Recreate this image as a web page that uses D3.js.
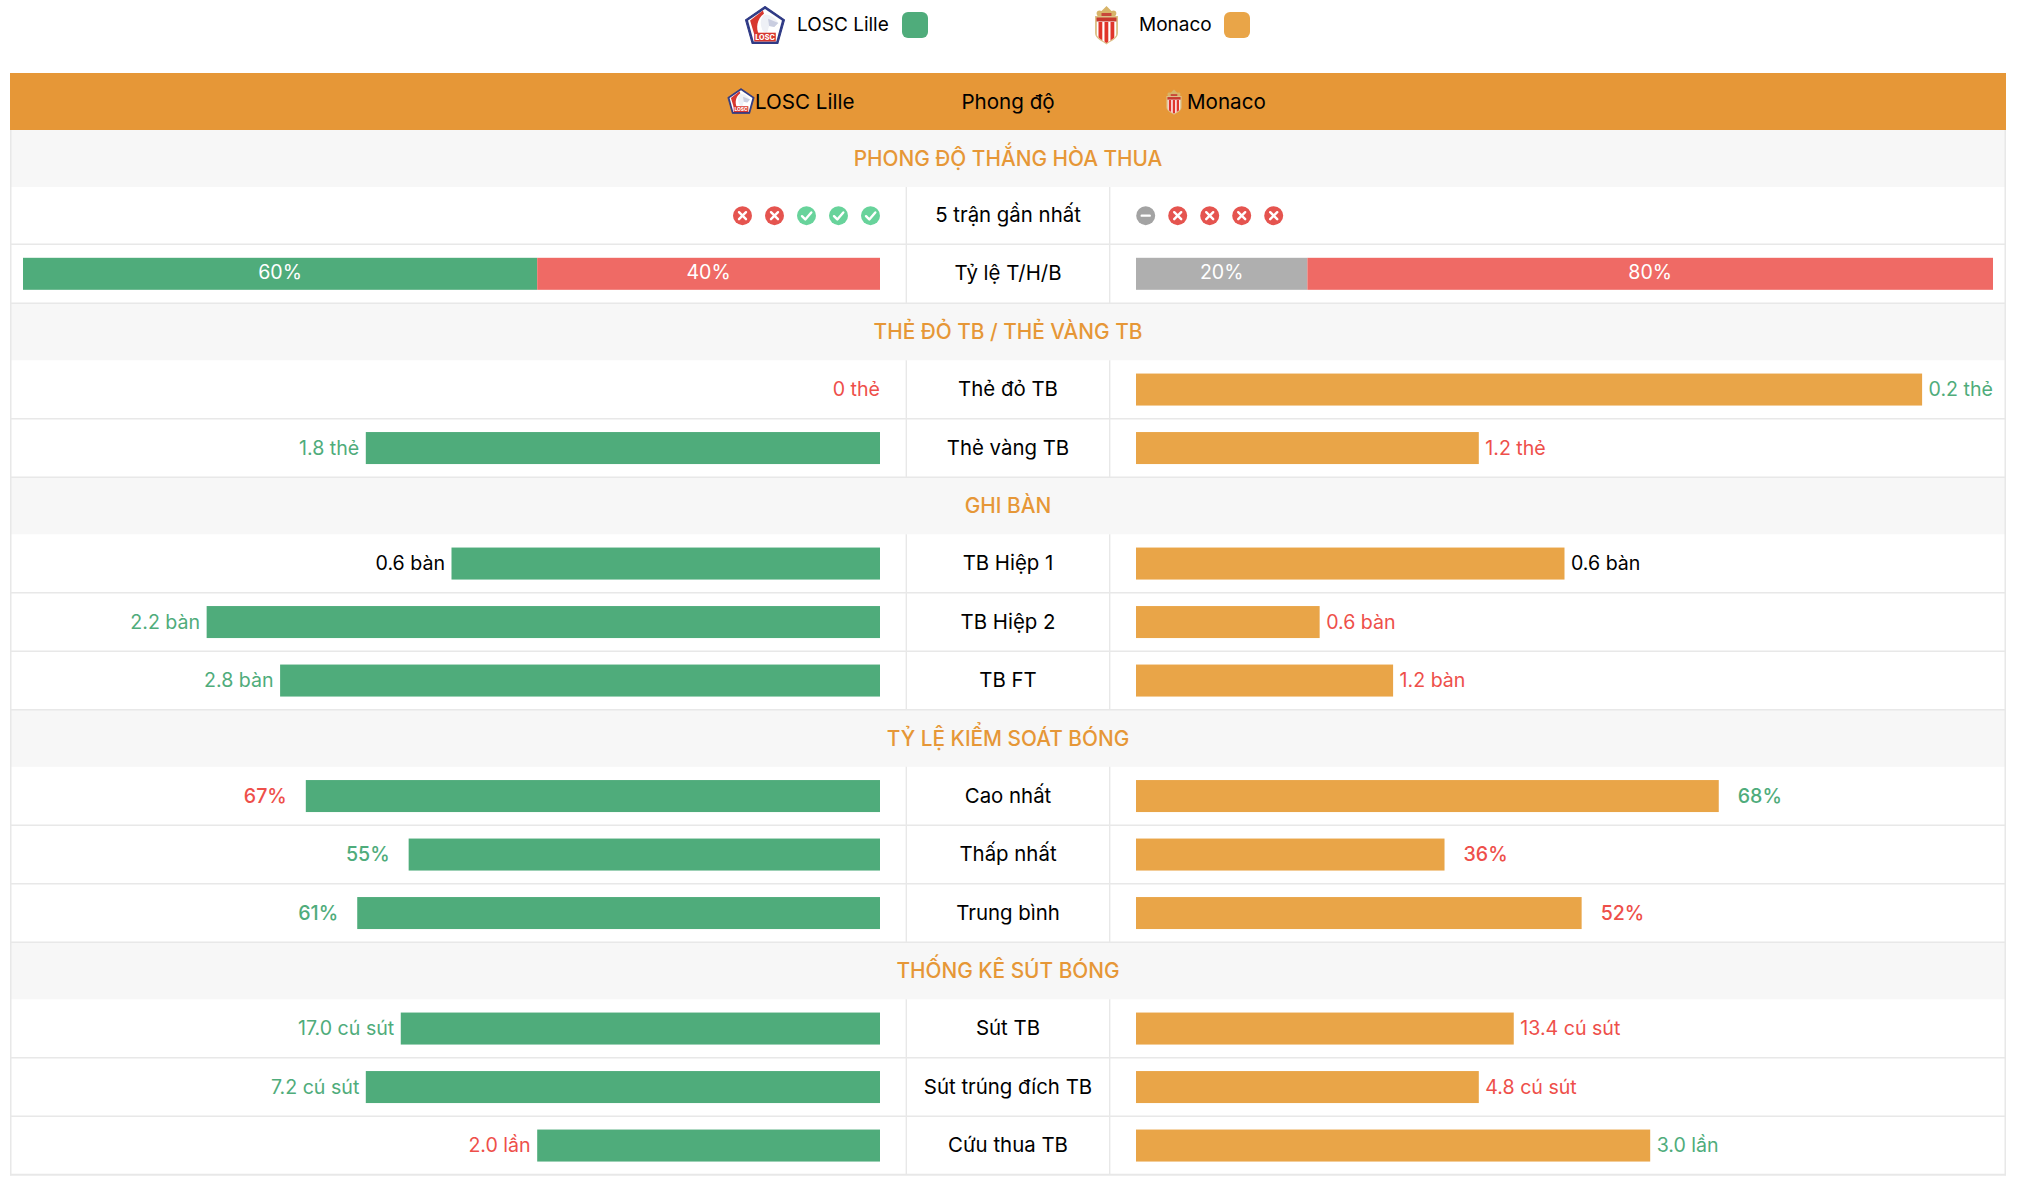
<!DOCTYPE html>
<html><head><meta charset="utf-8">
<script src="https://cdnjs.cloudflare.com/ajax/libs/d3/7.8.5/d3.min.js"></script>
<style>html,body{margin:0;padding:0;background:#fff}svg{display:block}text{font-family:Inter,Roboto,"Noto Sans",sans-serif}</style>
</head><body><div id="c"></div>
<script>
const homeTeam='LOSC Lille', awayTeam='Monaco', headerMiddle='Phong độ';
const sectionForm='PHONG ĐỘ THẮNG HÒA THUA';
const formLabel='5 trận gần nhất', ratioLabel='Tỷ lệ T/H/B';
const homeForm=['L','L','W','W','W'], awayForm=['D','L','L','L','L'];
const homeRatio=[['W',60],['L',40]], awayRatio=[['D',20],['L',80]];
const cardLabels=['Thẻ đỏ TB','Thẻ vàng TB'], cardHome=[0,1.8], cardAway=[0.2,1.2];
const goalLabels=['TB Hiệp 1','TB Hiệp 2','TB FT'], goalHome=[0.6,2.2,2.8], goalAway=[0.6,0.6,1.2];
const possLabels=['Cao nhất','Thấp nhất','Trung bình'], possHome=[67,55,61], possAway=[68,36,52];
const shotLabels=['Sút TB','Sút trúng đích TB','Cứu thua TB'], shotHome=[17.0,7.2,2.0], shotAway=[13.4,4.8,3.0];
const groups=[
 {title:'THẺ ĐỎ TB / THẺ VÀNG TB',labels:cardLabels,home:cardHome,away:cardAway,fmt:v=>v+' thẻ',kind:'share'},
 {title:'GHI BÀN',labels:goalLabels,home:goalHome,away:goalAway,fmt:v=>v.toFixed(1)+' bàn',kind:'share'},
 {title:'TỶ LỆ KIỂM SOÁT BÓNG',labels:possLabels,home:possHome,away:possAway,fmt:v=>v+'%',kind:'pct'},
 {title:'THỐNG KÊ SÚT BÓNG',labels:shotLabels,home:shotHome,away:shotAway,fmt:(v,i)=>v.toFixed(1)+(i===2?' lần':' cú sút'),kind:'share'}
];

const C={green:'#4fac7b',orange:'#e9a548',head:'#e69737',red:'#ef6a65',gray:'#afafaf',line:'#e8e8e8',sec:'#f7f7f7',
 txtG:'#4fac7b',txtR:'#ee4f4a',iR:'#e5544f',iG:'#68d39b',iD:'#a3a3a3'};
const W=2018,H=1184,L=10,R=2006,cx=1008,FS=20.4,VS=19.6;
const svg=d3.select('#c').append('svg').attr('width',W).attr('height',H);
const xL=d3.scaleLinear().domain([0,1]).range([880,23]);
const xR=d3.scaleLinear().domain([0,1]).range([1136,1993]);
const secH=57, rowH=58.5;
let y=130;
const bg=svg.append('g'), fg=svg.append('g');
let uid=0;
function lille(g,x,y,s){
 const k=s/36, c=g.append('g').attr('transform',`translate(${x},${y}) scale(${k})`);
 c.append('path').attr('d','M0,-18 L19,-5 L12.5,18 L-12.5,18 L-19,-5Z').attr('fill','#2f3a85').attr('stroke','#2f3a85').attr('stroke-linejoin','round');
 c.append('path').attr('d','M0,-15.5 L16.5,-4.3 L11,16 L-11,16 L-16.5,-4.3Z').attr('fill','#fff');
 c.append('path').attr('d','M-2,-14 L-14.5,-4.5 L-10.5,9 L-6,9 C-9,3 -8,-6 -1,-11Z').attr('fill','#d7372f');
 c.append('path').attr('d','M-1,-10 C6,-11 11,-5 13,-2 L9,2 L4,1 L2,8 L-2,6 C-5,0 -5,-6 -1,-10Z').attr('fill','#eef0f6');
 c.append('path').attr('d','M3,-6 L13,-2 L9,2 L4,1Z').attr('fill','#c9cde0');
 c.append('rect').attr('x',-10.5).attr('y',7.5).attr('width',21).attr('height',8.5).attr('fill','#d7372f');
 c.append('text').attr('x',0).attr('y',14.3).attr('text-anchor','middle').attr('font-size',7).attr('font-weight',800).attr('fill','#fff').text('LOSC');
}
function monaco(g,x,y,s){
 const k=s/38, c=g.append('g').attr('transform',`translate(${x},${y}) scale(${k})`), id='mc'+(uid++);
 const shield='M-10,-5 L10,-5 L10,8 C10,13 4,15 0,18 C-4,15 -10,13 -10,8Z';
 c.append('path').attr('d','M-8,-8 C-12,-12 -9,-16 -5,-14 L-3,-16 L0,-19 L3,-16 L5,-14 C9,-16 12,-12 8,-8Z').attr('fill','#d8b469');
 c.append('path').attr('d','M-5,-12 L5,-12 L5,-8 L-5,-8Z').attr('fill','#c8483a');
 c.append('path').attr('d','M-11.5,-9 L11.5,-9 L11.5,8 C11.5,14 4,16 0,19.5 C-4,16 -11.5,14 -11.5,8Z').attr('fill','#dcc187');
 c.append('clipPath').attr('id',id).append('path').attr('d',shield);
 const s2=c.append('g').attr('clip-path',`url(#${id})`);
 s2.append('rect').attr('x',-10).attr('y',-5).attr('width',20).attr('height',24).attr('fill','#fff');
 [-8,-2,4].forEach(v=>s2.append('rect').attr('x',v).attr('y',-3).attr('width',3.8).attr('height',22).attr('fill','#e0352b'));
 c.append('rect').attr('x',-10).attr('y',-7.5).attr('width',20).attr('height',4).attr('fill','#c8392e');
}
function txt(g,x,y,s,o={}){
 return g.append('text').attr('x',x).attr('y',y+(o.dy??7)).attr('text-anchor',o.a||'middle')
  .attr('font-size',o.fs||FS).attr('fill',o.c||'#000').attr('font-weight',o.w||400).text(s);
}
lille(svg,765,25,37); txt(svg,797,24,homeTeam,{a:'start',fs:19});
svg.append('rect').attr('x',902).attr('y',12).attr('width',26).attr('height',26).attr('rx',6).attr('fill',C.green);
monaco(svg,1106.5,25,38); txt(svg,1139,24,awayTeam,{a:'start',fs:19});
svg.append('rect').attr('x',1224).attr('y',12).attr('width',26).attr('height',26).attr('rx',6).attr('fill',C.orange);
bg.append('rect').attr('x',L).attr('y',73).attr('width',R-L).attr('height',57).attr('fill',C.head);
lille(fg,741,101,25); txt(fg,755,102,homeTeam,{a:'start',fs:20.6});
txt(fg,cx,102,headerMiddle,{fs:20.6});
monaco(fg,1174,102,25); txt(fg,1187,102,awayTeam,{a:'start',fs:20.6});

function section(t){
 bg.append('rect').attr('x',L).attr('y',y).attr('width',R-L).attr('height',secH).attr('fill',C.sec);
 txt(fg,cx,y+secH/2,t,{c:C.head,fs:20.8,w:500,dy:7.5});
 y+=secH;
}
const rowBands=[];
function row(label,h=rowH){
 const t=y; rowBands.push([t,h]);
 txt(fg,cx,t+h/2,label,{dy:6.5});
 y+=h; return t+h/2;
}
function icon(g,x,y,k){
 const col=k==='W'?C.iG:k==='L'?C.iR:C.iD;
 g.append('circle').attr('cx',x).attr('cy',y).attr('r',9.5).attr('fill',col);
 const p=g.append('path').attr('fill','none').attr('stroke','#fff').attr('stroke-width',2.4).attr('stroke-linecap','round').attr('stroke-linejoin','round');
 if(k==='W')p.attr('d',`M${x-4.5},${y+.5}L${x-1.2},${y+3.8}L${x+4.8},${y-3.2}`);
 else if(k==='L')p.attr('d',`M${x-3.5},${y-3.5}L${x+3.5},${y+3.5}M${x+3.5},${y-3.5}L${x-3.5},${y+3.5}`);
 else p.attr('d',`M${x-4},${y}L${x+4},${y}`);
}
section(sectionForm);
let cy=row(formLabel,57.3);
homeForm.forEach((k,i)=>icon(fg,742.5+i*32,cy,k));
awayForm.forEach((k,i)=>icon(fg,1145.7+i*32,cy,k));
cy=row(ratioLabel,59);
function stacked(arr,scale){
 let acc=0;
 arr.forEach(([k,v])=>{
  const a=scale(acc/100), b=scale((acc+v)/100); acc+=v;
  const x0=Math.min(a,b),x1=Math.max(a,b);
  fg.append('rect').attr('x',x0).attr('y',cy-16).attr('width',x1-x0).attr('height',32).attr('fill',k==='W'?C.green:k==='L'?C.red:C.gray);
  txt(fg,(x0+x1)/2,cy-1.5,v+'%',{c:'#fff',fs:VS});
 });
}
stacked(homeRatio,d3.scaleLinear().domain([0,1]).range([23,880]));
stacked(awayRatio,xR);

groups.forEach(gr=>{
 section(gr.title);
 gr.labels.forEach((lab,i)=>{
  const cyy=row(lab), a=gr.home[i], b=gr.away[i];
  const sa=gr.kind==='pct'?a/100:(a+b?a/(a+b):0), sb=gr.kind==='pct'?b/100:(a+b?b/(a+b):0);
  const gap=gr.kind==='pct'?19:6.5;
  const colA=a===b?'#000':(a>b?C.txtG:C.txtR), colB=a===b?'#000':(b>a?C.txtG:C.txtR);
  const w=gr.kind==='pct'?500:400;
  const tA=txt(fg,0,cyy-.5,gr.fmt(a,i),{a:'end',c:colA,w,fs:VS});
  const twA=tA.node().getComputedTextLength();
  const wA=Math.min(xL(0)-xL(sa),857-twA-gap);
  if(wA>0)fg.append('rect').attr('x',xL(0)-wA).attr('y',cyy-16).attr('width',wA).attr('height',32).attr('fill',C.green);
  tA.attr('x',xL(0)-wA-(wA>0?gap:0));
  const tB=txt(fg,0,cyy-.5,gr.fmt(b,i),{a:'start',c:colB,w,fs:VS});
  const twB=tB.node().getComputedTextLength();
  const wB=Math.min(xR(sb)-xR(0),857-twB-gap);
  if(wB>0)fg.append('rect').attr('x',xR(0)).attr('y',cyy-16).attr('width',wB).attr('height',32).attr('fill',C.orange);
  tB.attr('x',xR(0)+wB+gap);
 });
});
const bottom=y;
rowBands.forEach(([t,h])=>{
 [906.3,1109.7].forEach(x=>bg.append('line').attr('x1',x).attr('x2',x).attr('y1',t).attr('y2',t+h).attr('stroke',C.line).attr('stroke-width',1.4));
 bg.append('line').attr('x1',L).attr('x2',R).attr('y1',t+h).attr('y2',t+h).attr('stroke',C.line).attr('stroke-width',t+h===bottom?2:1.4);
});
[L+.75,R-.75].forEach(x=>bg.append('line').attr('x1',x).attr('x2',x).attr('y1',130).attr('y2',bottom+.5).attr('stroke',C.line).attr('stroke-width',1.5));
</script></body></html>
